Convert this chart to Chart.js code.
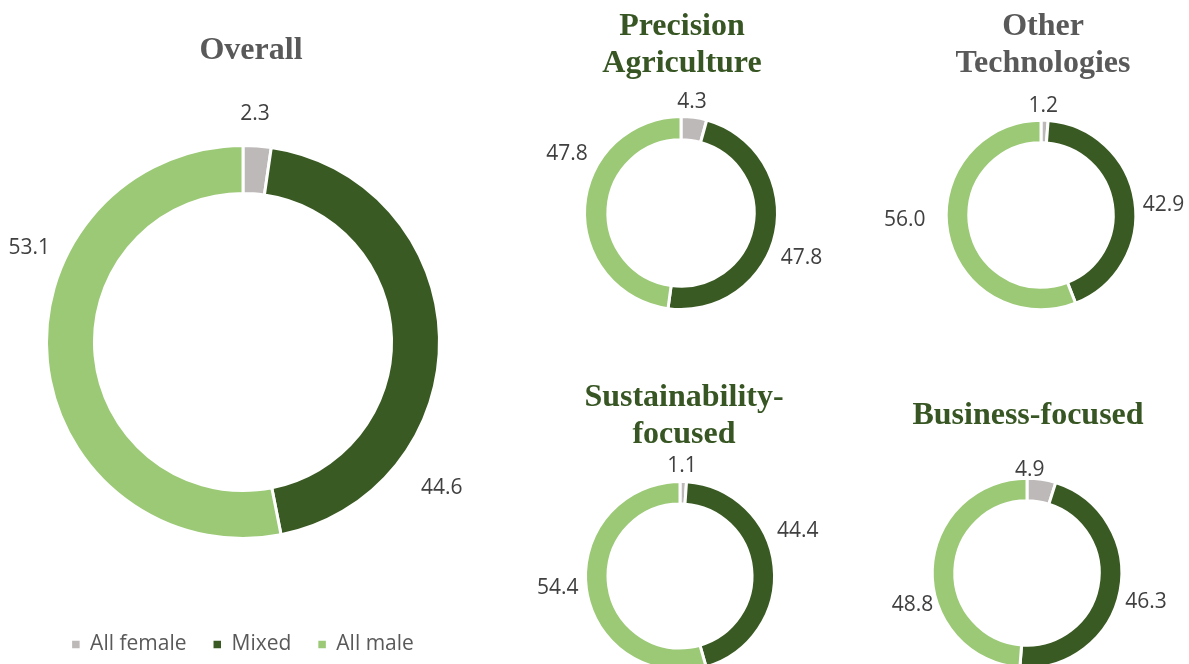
<!DOCTYPE html>
<html>
<head>
<meta charset="utf-8">
<script src="https://cdn.jsdelivr.net/npm/chart.js@4"></script>
<style>
  html, body { margin: 0; padding: 0; background: #fff; }
  body { width: 1189px; height: 664px; overflow: hidden; position: relative; }
  .panel { position: absolute; }
  .title {
    position: absolute; width: 400px; text-align: center;
    font-family: "Liberation Serif", "Times New Roman", serif;
    font-weight: bold; font-size: 32px; line-height: 37px;
  }
  .grey { color: #595959; }
  .green { color: #375623; }
</style>
</head>
<body>

<script>
// Team composition by gender, share of ventures (%)
const segments = ['All female', 'Mixed', 'All male'];
const segmentColors = ['#BDB9B8', '#3A5A23', '#9BC976'];

const overallShare = [2.3, 44.6, 53.1];
const precisionAgShare = [4.3, 47.8, 47.8];
const otherTechShare = [1.2, 42.9, 56.0];
const sustainabilityShare = [1.1, 44.4, 54.4];
const businessShare = [4.9, 46.3, 48.8];

// Draws the value of each slice outside the ring; spots are [angle from top in deg, distance / ring radius]
const valueLabels = {
  id: 'valueLabels',
  afterDatasetsDraw(chart, args, opts) {
    const arcs = chart.getDatasetMeta(0).data;
    const values = chart.data.datasets[0].data;
    const ctx = chart.ctx;
    ctx.save();
    ctx.font = '21px "Open Sans", sans-serif';
    ctx.fillStyle = '#404040';
    ctx.textAlign = 'center';
    ctx.textBaseline = 'alphabetic';
    arcs.forEach((arc, i) => {
      const spot = opts.spots[i];
      const a = spot[0] * Math.PI / 180;
      const d = (arc.outerRadius - 1.5) * spot[1];
      // baseline sits half a digit height below the label centre
      ctx.fillText(values[i].toFixed(1), arc.x + d * Math.sin(a), arc.y - d * Math.cos(a) + 7.5);
    });
    ctx.restore();
  }
};

function addPanel(box, values, ring, spots, withLegend) {
  const div = document.createElement('div');
  div.className = 'panel';
  div.style.left = box.left + 'px';
  div.style.top = box.top + 'px';
  div.style.width = box.width + 'px';
  div.style.height = box.height + 'px';
  const canvas = document.createElement('canvas');
  div.appendChild(canvas);
  document.body.appendChild(div);

  return new Chart(canvas, {
    type: 'doughnut',
    data: {
      labels: segments,
      datasets: [{
        data: values,
        backgroundColor: segmentColors,
        borderColor: '#ffffff',
        borderWidth: 3,
        radius: ring.radius,
        cutout: ring.cutout,
        clip: false
      }]
    },
    options: {
      responsive: true,
      maintainAspectRatio: false,
      animation: false,
      layout: { padding: box.padding || 0 },
      plugins: {
        tooltip: { enabled: false },
        valueLabels: { spots: spots },
        legend: {
          display: !!withLegend,
          position: 'bottom',
          labels: {
            boxWidth: 7.5,
            boxHeight: 7.5,
            padding: 27,
            color: '#595959',
            font: { family: '"Open Sans", sans-serif', size: 21 },
            generateLabels(chart) {
              const base = Chart.overrides.doughnut.plugins.legend.labels.generateLabels(chart);
              return base.map(item => Object.assign(item, { lineWidth: 0 }));
            }
          }
        }
      }
    },
    plugins: [valueLabels]
  });
}

function addTitle(lines, cx, top, cls) {
  const t = document.createElement('div');
  t.className = 'title ' + cls;
  t.style.left = (cx - 200) + 'px';
  t.style.top = top + 'px';
  t.innerHTML = lines.join('<br>');
  document.body.appendChild(t);
}

// small rings: 340px square boxes centred on each ring
function smallBox(cx, cy) {
  return { left: cx - 170, top: cy - 170, width: 340, height: 340 };
}

addPanel({ left: 4, top: 0, width: 486, height: 665, padding: { top: 77, left: 0, right: 8 } },
  overallShare, { radius: 196.5, cutout: '75.6%' },
  [[3, 1.18], [126, 1.26], [294, 1.2]], true);

addPanel(smallBox(680.7, 213.3), precisionAgShare, { radius: 96.5, cutout: '75.8%' },
  [[5.6, 1.19], [110, 1.35], [298, 1.36]]);
addPanel(smallBox(1041, 215), otherTechShare, { radius: 94.8, cutout: '76.2%' },
  [[1.2, 1.18], [84.5, 1.32], [268.6, 1.46]]);
addPanel(smallBox(679.7, 575.7), sustainabilityShare, { radius: 94.5, cutout: '76.2%' },
  [[1, 1.2], [68.5, 1.36], [265, 1.32]]);
addPanel(smallBox(1027.3, 573.3), businessShare, { radius: 94.8, cutout: '76.2%' },
  [[1.5, 1.125], [103, 1.31], [255, 1.27]]);

addTitle(['Overall'], 251, 30, 'grey');
addTitle(['Precision', 'Agriculture'], 682, 5.5, 'green');
addTitle(['Other', 'Technologies'], 1043, 5.5, 'grey');
addTitle(['Sustainability-', 'focused'], 684, 376.5, 'green');
addTitle(['Business-focused'], 1028, 394.5, 'green');
</script>
</body>
</html>
